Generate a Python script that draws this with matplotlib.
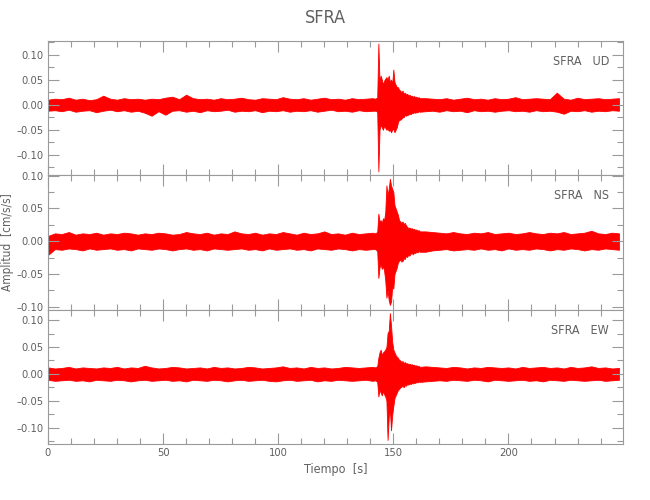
import numpy as np
import matplotlib
matplotlib.use('Agg')
import matplotlib.pyplot as plt
from matplotlib.ticker import MultipleLocator, FuncFormatter

# sample times of the envelope readings (s): quiet part every 3 s, event every 0.5 s
t_pre = np.arange(0, 142, 3)
t_evt = np.arange(142, 162, 0.5)
t_post = np.arange(164, 250, 3)
tiempo = np.concatenate([t_pre, t_evt, t_post])

# upper / lower envelope of each trace (cm/s/s)
ud_hi = [0.010, 0.012, 0.011, 0.014, 0.010, 0.012, 0.009, 0.011, 0.018, 0.012,
         0.010, 0.013, 0.011, 0.012, 0.010, 0.012, 0.011, 0.014, 0.016, 0.011,
         0.020, 0.013, 0.011, 0.012, 0.010, 0.013, 0.011, 0.012, 0.014, 0.011,
         0.010, 0.013, 0.012, 0.011, 0.015, 0.012, 0.011, 0.013, 0.010, 0.012,
         0.014, 0.011, 0.012, 0.010, 0.013, 0.011, 0.012, 0.013,
         0.012, 0.013, 0.014, 0.122, 0.045, 0.058, 0.050, 0.040, 0.048, 0.052,
         0.055, 0.050, 0.058, 0.045, 0.050, 0.042, 0.070, 0.045, 0.040, 0.035,
         0.035, 0.030, 0.028, 0.025, 0.028, 0.022, 0.024, 0.020, 0.022, 0.018,
         0.020, 0.017, 0.018, 0.016, 0.017, 0.015, 0.016, 0.014, 0.015, 0.013,
         0.013, 0.012, 0.011, 0.013, 0.010, 0.012, 0.014, 0.011, 0.012, 0.010,
         0.013, 0.011, 0.012, 0.015, 0.011, 0.012, 0.013, 0.012, 0.011, 0.024,
         0.012, 0.010, 0.014, 0.011, 0.012, 0.013, 0.011, 0.012, 0.013]
ud_lo = [-0.012, -0.011, -0.013, -0.010, -0.014, -0.012, -0.011, -0.015, -0.012, -0.010,
         -0.013, -0.011, -0.014, -0.012, -0.016, -0.022, -0.013, -0.020, -0.012, -0.011,
         -0.014, -0.012, -0.015, -0.011, -0.013, -0.012, -0.010, -0.014, -0.012, -0.013,
         -0.011, -0.015, -0.012, -0.013, -0.011, -0.014, -0.012, -0.013, -0.011, -0.014,
         -0.012, -0.010, -0.013, -0.012, -0.014, -0.011, -0.013, -0.012,
         -0.012, -0.012, -0.015, -0.133, -0.050, -0.040, -0.045, -0.050, -0.042, -0.046,
         -0.050, -0.048, -0.052, -0.050, -0.055, -0.050, -0.048, -0.055, -0.050, -0.045,
         -0.035, -0.030, -0.030, -0.028, -0.025, -0.025, -0.020, -0.022, -0.020, -0.020,
         -0.018, -0.019, -0.016, -0.017, -0.015, -0.016, -0.015, -0.015, -0.013, -0.014,
         -0.013, -0.012, -0.014, -0.011, -0.013, -0.012, -0.015, -0.011, -0.013, -0.012,
         -0.014, -0.012, -0.011, -0.013, -0.012, -0.014, -0.011, -0.013, -0.012, -0.014,
         -0.018, -0.012, -0.013, -0.011, -0.014, -0.012, -0.013, -0.011, -0.012]

ns_hi = [0.008, 0.012, 0.011, 0.014, 0.010, 0.012, 0.011, 0.013, 0.010, 0.012,
         0.011, 0.013, 0.012, 0.010, 0.012, 0.011, 0.013, 0.012, 0.010, 0.011,
         0.014, 0.012, 0.011, 0.013, 0.010, 0.012, 0.011, 0.015, 0.012, 0.011,
         0.013, 0.010, 0.012, 0.011, 0.014, 0.012, 0.010, 0.013, 0.011, 0.012,
         0.015, 0.011, 0.012, 0.010, 0.013, 0.011, 0.012, 0.013,
         0.012, 0.013, 0.014, 0.042, 0.030, 0.032, 0.028, 0.035, 0.032, 0.045,
         0.085, 0.070, 0.080, 0.095, 0.085, 0.080, 0.075, 0.055, 0.050, 0.045,
         0.040, 0.032, 0.030, 0.028, 0.030, 0.026, 0.028, 0.024, 0.022, 0.020,
         0.021, 0.019, 0.020, 0.018, 0.019, 0.017, 0.018, 0.016, 0.017, 0.015,
         0.015, 0.014, 0.013, 0.012, 0.014, 0.012, 0.011, 0.013, 0.012, 0.014,
         0.011, 0.012, 0.013, 0.011, 0.012, 0.014, 0.012, 0.011, 0.013, 0.012,
         0.014, 0.011, 0.012, 0.013, 0.016, 0.012, 0.011, 0.013, 0.012]
ns_lo = [-0.021, -0.012, -0.013, -0.011, -0.012, -0.014, -0.011, -0.013, -0.012, -0.011,
         -0.013, -0.012, -0.014, -0.011, -0.012, -0.013, -0.011, -0.012, -0.014, -0.012,
         -0.011, -0.013, -0.012, -0.014, -0.011, -0.012, -0.013, -0.012, -0.011, -0.013,
         -0.012, -0.014, -0.011, -0.013, -0.012, -0.011, -0.013, -0.012, -0.014, -0.011,
         -0.012, -0.013, -0.011, -0.012, -0.014, -0.012, -0.013, -0.012,
         -0.012, -0.013, -0.015, -0.056, -0.040, -0.035, -0.042, -0.038, -0.045, -0.060,
         -0.086, -0.075, -0.090, -0.097, -0.092, -0.070, -0.072, -0.050, -0.045, -0.040,
         -0.032, -0.030, -0.028, -0.031, -0.030, -0.026, -0.027, -0.022, -0.024, -0.020,
         -0.022, -0.019, -0.018, -0.020, -0.017, -0.018, -0.016, -0.017, -0.015, -0.016,
         -0.016, -0.014, -0.013, -0.012, -0.014, -0.013, -0.012, -0.013, -0.011, -0.013,
         -0.012, -0.014, -0.011, -0.013, -0.012, -0.013, -0.011, -0.012, -0.014, -0.012,
         -0.013, -0.011, -0.012, -0.014, -0.012, -0.013, -0.011, -0.012, -0.013]

ew_hi = [0.012, 0.010, 0.011, 0.013, 0.010, 0.012, 0.011, 0.010, 0.012, 0.011,
         0.013, 0.010, 0.012, 0.011, 0.015, 0.012, 0.010, 0.011, 0.013, 0.012,
         0.010, 0.011, 0.012, 0.010, 0.013, 0.011, 0.012, 0.010, 0.011, 0.013,
         0.012, 0.010, 0.011, 0.012, 0.014, 0.011, 0.012, 0.010, 0.013, 0.011,
         0.012, 0.010, 0.011, 0.013, 0.012, 0.011, 0.012, 0.013,
         0.012, 0.013, 0.014, 0.030, 0.040, 0.045, 0.035, 0.040, 0.042, 0.045,
         0.050, 0.076, 0.080, 0.113, 0.090, 0.060, 0.045, 0.040, 0.035, 0.032,
         0.030, 0.026, 0.025, 0.022, 0.024, 0.020, 0.022, 0.019, 0.020, 0.018,
         0.019, 0.017, 0.018, 0.016, 0.017, 0.015, 0.016, 0.014, 0.015, 0.013,
         0.014, 0.013, 0.012, 0.011, 0.013, 0.012, 0.010, 0.012, 0.011, 0.013,
         0.012, 0.011, 0.012, 0.010, 0.013, 0.011, 0.012, 0.013, 0.011, 0.012,
         0.010, 0.013, 0.011, 0.012, 0.014, 0.011, 0.012, 0.010, 0.011]
ew_lo = [-0.011, -0.013, -0.012, -0.011, -0.013, -0.012, -0.014, -0.011, -0.012, -0.013,
         -0.011, -0.012, -0.014, -0.012, -0.011, -0.013, -0.012, -0.011, -0.013, -0.012,
         -0.014, -0.011, -0.012, -0.013, -0.011, -0.012, -0.014, -0.012, -0.011, -0.013,
         -0.012, -0.011, -0.013, -0.014, -0.012, -0.011, -0.013, -0.012, -0.011, -0.014,
         -0.012, -0.013, -0.011, -0.012, -0.013, -0.012, -0.011, -0.013,
         -0.012, -0.013, -0.015, -0.042, -0.030, -0.035, -0.040, -0.032, -0.038, -0.042,
         -0.050, -0.123, -0.080, -0.067, -0.105, -0.077, -0.060, -0.045, -0.040, -0.035,
         -0.030, -0.028, -0.025, -0.024, -0.022, -0.025, -0.021, -0.022, -0.019, -0.020,
         -0.018, -0.019, -0.017, -0.018, -0.016, -0.017, -0.015, -0.016, -0.014, -0.015,
         -0.014, -0.013, -0.012, -0.013, -0.011, -0.012, -0.013, -0.011, -0.012, -0.014,
         -0.011, -0.012, -0.013, -0.012, -0.011, -0.013, -0.012, -0.014, -0.011, -0.012,
         -0.013, -0.011, -0.012, -0.013, -0.012, -0.011, -0.013, -0.012, -0.011]

estacion = 'SFRA'
componentes = ['UD', 'NS', 'EW']
ylims = [(-0.141, 0.127), (-0.1045, 0.1002), (-0.131, 0.119)]

plt.rcParams['font.family'] = ['DejaVu Sans']
plt.rcParams['font.stretch'] = 'condensed'
txt = '#606060'
frame = '#9a9a9a'

fig = plt.figure(figsize=(6.5, 5), dpi=100)
fig.subplots_adjust(left=0.0738, right=0.959, top=0.918, bottom=0.1114, hspace=0)
axs = fig.subplots(3, 1, sharex=True)

trazas = [(ud_hi, ud_lo), (ns_hi, ns_lo), (ew_hi, ew_lo)]
minus = FuncFormatter(lambda v, p: ('%.2f' % v).replace('-', '\u2013'))

for ax, (hi, lo), comp, yl in zip(axs, trazas, componentes, ylims):
    ax.fill_between(tiempo, lo, hi, color='red', lw=0.6)
    ax.set_xlim(0, 249.9)
    ax.set_ylim(*yl)
    ax.xaxis.set_major_locator(MultipleLocator(50))
    ax.xaxis.set_minor_locator(MultipleLocator(10))
    ax.yaxis.set_major_locator(MultipleLocator(0.05))
    ax.yaxis.set_minor_locator(MultipleLocator(0.025))
    ax.yaxis.set_major_formatter(minus)
    ax.tick_params(which='both', direction='in', top=True, right=True,
                   color=frame, labelcolor=txt, labelsize=8, width=0.8)
    ax.tick_params(which='major', length=8, pad=3)
    ax.tick_params(which='minor', length=4)
    for s in ax.spines.values():
        s.set_color(frame)
        s.set_linewidth(0.8)
    ax.text(0.975, 0.85, estacion + '   ' + comp, transform=ax.transAxes,
            ha='right', va='center', fontsize=9, color=txt)

for ax in axs[:-1]:
    ax.tick_params(labelbottom=False)

axs[-1].set_xlabel('Tiempo  [s]', fontsize=9, color=txt, labelpad=3)
fig.text(0.011, 0.515, 'Amplitud  [cm/s/s]', rotation=90, ha='center',
         va='center', fontsize=8.5, color=txt)
fig.suptitle(estacion, y=0.982, fontsize=13, color=txt)

fig.savefig('out.png', dpi=100)
